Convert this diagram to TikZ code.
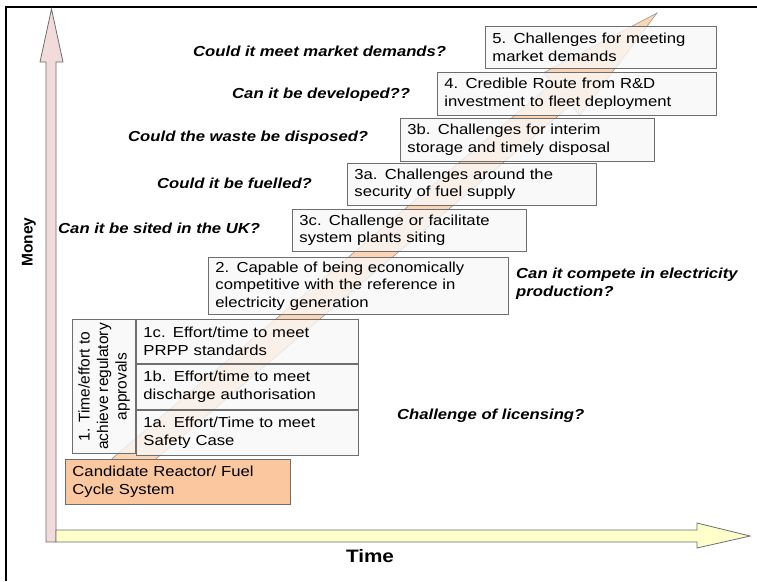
\documentclass[tikz,border=0pt]{standalone}
\usepackage{fontspec}
\setmainfont{Liberation Sans}[FakeStretch=1.15]
\newfontfamily\uprightfont{Liberation Sans}
\usepackage{tikz}
\usetikzlibrary{positioning}
\definecolor{moneyfill}{RGB}{242,220,219}
\definecolor{timefill}{RGB}{255,255,204}
\definecolor{routefill}{RGB}{252,213,180}
\definecolor{candfill}{RGB}{250,199,158}
\definecolor{boxline}{RGB}{110,110,110}
\tikzset{
  axisarrow/.style={draw=boxline, line width=0.8pt},
  route/.style={draw=boxline!80, line width=0.5pt, fill=routefill},
  stage/.style 2 args={draw=boxline, line width=0.9pt, fill=black!3, fill opacity=0.8,
                       text opacity=1, anchor=north west, align=left, inner xsep=7pt,
                       inner ysep=0pt, text width=#1pt, minimum height=#2pt,
                       font=\fontsize{14.5}{17.5}\selectfont},
  candbox/.style={fill=candfill, fill opacity=1},
  regbox/.style={draw=boxline, line width=0.9pt, fill=black!3, fill opacity=0.8,
                 text opacity=1, align=center, inner sep=0pt, rotate=90,
                 minimum width=134pt, minimum height=63pt,
                 font=\uprightfont\fontsize{15.5}{18.5}\selectfont},
  question/.style={font=\fontsize{14.5}{17.5}\selectfont\bfseries\itshape,
                   inner sep=0pt, anchor=base west, align=left},
  axislbl/.style={inner sep=0pt}
}

\begin{document}
\begin{tikzpicture}[x=1pt, y=-1pt]
\useasboundingbox (0,0) rectangle (757,581);
\draw[line width=2.5pt] (6,581) -- (6,7) -- (757,7);

\draw[axisarrow, fill=moneyfill] (46,542) -- (46,62) -- (40,62) -- (51.5,9) -- (63,62) -- (56,62) -- (56,542) -- cycle;
\draw[axisarrow, fill=timefill] (56,530) -- (697,530) -- (697,523) -- (750,536) -- (697,548) -- (697,542) -- (56,542) -- cycle;
\node (money) [axislbl, rotate=90, font=\uprightfont\fontsize{15.5}{18}\selectfont\bfseries] at (29,242) {Money};
\node (time) [axislbl, anchor=base, font=\fontsize{18}{21}\selectfont\bfseries] at (370,562) {Time};

\draw[route] (99.8,469.1) -- (552.4,83.1) -- (543.6,72.7) -- (657,13) -- (579.8,115.3) -- (571,104.9) -- (118.4,490.9) -- cycle;

\node (b5) [stage={217}{42}] at (485,26) {5. Challenges for meeting\\market demands};
\node (b4) [stage={265}{43}] at (437,72) {4. Credible Route from R\&D\\investment to fleet deployment};
\node (b3b) [stage={240}{43}] at (400,118) {3b. Challenges for interim\\storage and timely disposal};
\node (b3a) [stage={235}{42}] at (347,163) {3a. Challenges around the\\security of fuel supply};
\node (b3c) [stage={220}{42}] at (292,209) {3c. Challenge or facilitate\\system plants siting};
\node (b2) [stage={286}{57}] at (208,257) {2. Capable of being economically\\competitive with the reference in\\electricity generation};
\node (b1c) [stage={208}{44}] at (136,319) {1c. Effort/time to meet\\PRPP standards};
\node (b1b) [stage={208}{45}, at={(b1c.south west)}] {1b. Effort/time to meet\\discharge authorisation};
\node (b1a) [stage={208}{45}, at={(b1b.south west)}] {1a. Effort/Time to meet\\Safety Case};
\node (b1) [regbox, anchor=south east, at={(b1c.north west)}] {1. Time/effort to\\achieve regulatory\\approvals};
\node (cand) [stage={211}{45}, candbox] at (65,459) {Candidate Reactor/ Fuel\\Cycle System};

\node (q5) [question] at (193,56) {Could it meet market demands?};
\node (q4) [question] at (232,98) {Can it be developed??};
\node (q3b) [question] at (128,141) {Could the waste be disposed?};
\node (q3a) [question] at (157,188) {Could it be fuelled?};
\node (q3c) [question] at (58,233) {Can it be sited in the UK?};
\node (q2) [question, anchor=north west] at (516,268) {Can it compete in electricity\\production?};
\node (q1) [question] at (397,419) {Challenge of licensing?};
\end{tikzpicture}
\end{document}
